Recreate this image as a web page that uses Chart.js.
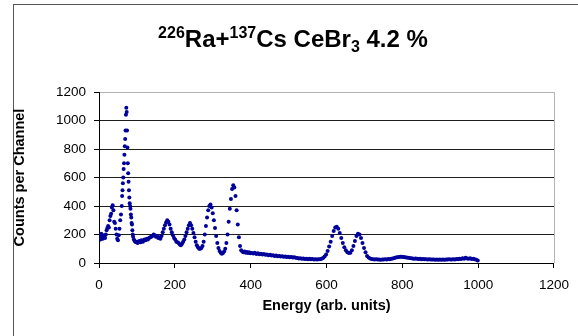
<!DOCTYPE html>
<html>
<head>
<meta charset="utf-8">
<script src="https://cdn.jsdelivr.net/npm/chart.js@4"></script>
<style>
  html, body { margin: 0; padding: 0; background: #fff; }
  #wrap { position: relative; width: 578px; height: 336px; overflow: hidden; background: #fff; }
  #frame { position: absolute; left: 13px; top: 4px; width: 700px; height: 500px; border-left: 1px solid #555; border-top: 1px solid #555; }
  #title { position: absolute; left: 0; width: 586px; top: 24px; text-align: center; font-family: "Liberation Sans", Arial, sans-serif; font-weight: bold; font-size: 24px; line-height: 30px; color: #000; white-space: nowrap; }
  #title .sup { font-size: 16px; position: relative; top: -9px; }
  #title .sub { font-size: 16px; position: relative; top: 5px; }
  canvas { position: absolute; left: 0; top: 0; }
</style>
</head>
<body>
<div id="wrap">
  <div id="frame"></div>
  <canvas id="c" width="578" height="336"></canvas>
  <div id="title"><span class="sup">226</span>Ra+<span class="sup">137</span>Cs CeBr<span class="sub">3</span> 4.2 %</div>
</div>
<script>
// ---- data ----
const energyLow = [0,2,4,6,8,10,12,14,16,18,20,22,24,26,28,30,32,34,36,38,40,42,44,46,48,50,52,54,56,58,
  60,61,62,63,64,65,66,67,68,69,70,71,72,73,74,75,76,77,78,79,80,81,82,83,84,85,86,87,88,89,90,
  92,94,96,98,100,102,104,106,108,110,112,114,116,118,120];
const countsLow = [175,190,165,205,180,170,195,185,175,200,230,245,260,250,300,330,345,390,405,370,290,280,240,200,170,160,195,240,300,340,
  400,470,510,560,600,660,700,760,820,870,930,1040,1090,1060,930,810,700,630,570,510,460,420,400,380,340,320,280,270,230,200,185,
  165,155,150,145,150,140,145,155,150,145,160,155,150,160,165];

const energyMid = [123,126,129,132,135,138,141,144,147,150,153,156,159,162,165,168,171,174,177,180,183,186,189,192,195,198,
  201,204,207,210,213,216,219,222,225,228,231,234,237,240,243,246,249,252,255,258,261,264,267,270,273,276,279,282,285,288,291,294,297,
  300,303,306,309,312,315,318,321,324,327,330,333,336,339,342,345,348,351,354,357,360,363,366,369,372,375,378,381,384,387,390,393,396,399];
const countsMid = [160,170,165,175,180,185,190,200,195,185,190,175,180,170,190,215,240,265,285,300,290,270,240,215,195,175,
  165,150,145,140,130,125,135,150,165,190,215,240,265,280,265,240,210,180,150,125,110,100,100,105,120,150,200,260,320,370,400,410,390,
  350,300,245,190,140,105,85,72,65,70,80,100,140,200,290,380,450,520,545,530,470,370,270,180,120,90,80,75,80,72,78,70,75,68];

const energyHigh = [403,407,411,415,419,423,427,431,435,439,443,447,451,455,459,463,467,471,475,479,
  483,487,491,495,499,503,507,511,515,519,523,527,531,535,539,543,547,551,555,559,
  563,567,571,575,579,583,587,591,595,599,603,607,611,615,619,623,627,631,635,639,
  643,647,651,655,659,663,667,671,675,679,683,687,691,695,699,703,707,711,715,719,
  723,727,731,735,739,743,747,751,755,759,763,767,771,775,779,783,787,791,795,799,
  803,807,811,815,819,823,827,831,835,839,843,847,851,855,859,863,867,871,875,879,
  883,887,891,895,899,903,907,911,915,919,923,927,931,935,939,943,947,951,955,959,
  963,967,971,975,979,983,987,991,995,999];
const countsHigh = [70,66,72,64,68,62,65,60,63,58,60,55,58,52,55,50,53,48,50,45,
  48,44,46,42,44,40,42,38,40,36,35,32,34,30,32,28,30,27,29,26,
  28,25,27,25,27,26,30,35,45,60,85,115,150,190,225,250,255,240,210,175,
  140,110,90,75,70,72,90,120,155,190,205,200,175,140,105,75,50,38,32,28,
  27,25,26,24,25,23,25,24,26,25,28,27,30,32,35,38,40,42,43,44,
  42,40,38,36,35,33,32,30,31,29,28,29,27,28,26,27,25,26,24,25,
  24,23,25,23,24,22,24,23,25,24,26,24,25,27,25,28,26,30,28,33,
  30,36,32,30,34,28,30,26,22,18];

const xTicks = [0,200,400,600,800,1000,1200];
const yTicks = [0,200,400,600,800,1000,1200];
const xTitle = 'Energy (arb. units)';
const yTitle = 'Counts per Channel';

// ---- build points ----
const energies = energyLow.concat(energyMid, energyHigh);
const counts = countsLow.concat(countsMid, countsHigh);
const points = energies.map((e, i) => ({ x: e, y: counts[i] }));

const FONT = '"Liberation Sans", Arial, sans-serif';

const plotFrame = {
  id: 'plotFrame',
  afterDraw(chart) {
    const { ctx, chartArea: a } = chart;
    ctx.save();
    ctx.strokeStyle = '#b4b4b4';
    ctx.lineWidth = 1;
    ctx.beginPath();
    ctx.moveTo(Math.round(a.right) + 0.5, a.top);
    ctx.lineTo(Math.round(a.right) + 0.5, a.bottom);
    ctx.stroke();
    ctx.restore();
  }
};

new Chart(document.getElementById('c'), {
  type: 'scatter',
  data: {
    datasets: [{
      data: points,
      backgroundColor: '#00009a',
      borderColor: '#00009a',
      pointRadius: 2,
      pointBorderWidth: 0,
      pointHoverRadius: 2
    }]
  },
  options: {
    responsive: false,
    animation: false,
    devicePixelRatio: 1,
    layout: { padding: { left: 0, right: 18, top: 92, bottom: 0 } },
    plugins: { legend: { display: false }, tooltip: { enabled: false } },
    scales: {
      x: {
        type: 'linear',
        min: 0, max: 1200,
        afterFit(s) { s.height = 73; },
        afterBuildTicks(s) { s.ticks = xTicks.map(v => ({ value: v })); },
        border: { display: true, color: '#000', width: 1 },
        grid: { drawOnChartArea: false, drawTicks: true, tickLength: 5, tickColor: '#000' },
        ticks: { color: '#000', font: { family: FONT, size: 13.5 }, padding: 9, maxRotation: 0, callback: (v) => String(v) },
        title: { display: true, text: xTitle, color: '#000', font: { family: FONT, size: 14.5, weight: 'bold' }, padding: { top: 0, bottom: 21 } }
      },
      y: {
        type: 'linear',
        min: 0, max: 1200,
        afterFit(s) { s.width = 99; },
        afterBuildTicks(s) { s.ticks = yTicks.map(v => ({ value: v })); },
        border: { display: true, color: '#000', width: 1 },
        grid: {
          drawOnChartArea: true, drawTicks: true, tickLength: 5, tickColor: '#000',
          color: (c) => (c.tick && c.tick.value === 1200) ? '#b4b4b4' : '#1e1e1e'
        },
        ticks: { color: '#000', font: { family: FONT, size: 13.5 }, padding: 8, callback: (v) => String(v) },
        title: { display: true, text: yTitle, color: '#000', font: { family: FONT, size: 14.5, weight: 'bold' }, padding: { top: 11, bottom: 0 } }
      }
    }
  },
  plugins: [plotFrame]
});
</script>
</body>
</html>
